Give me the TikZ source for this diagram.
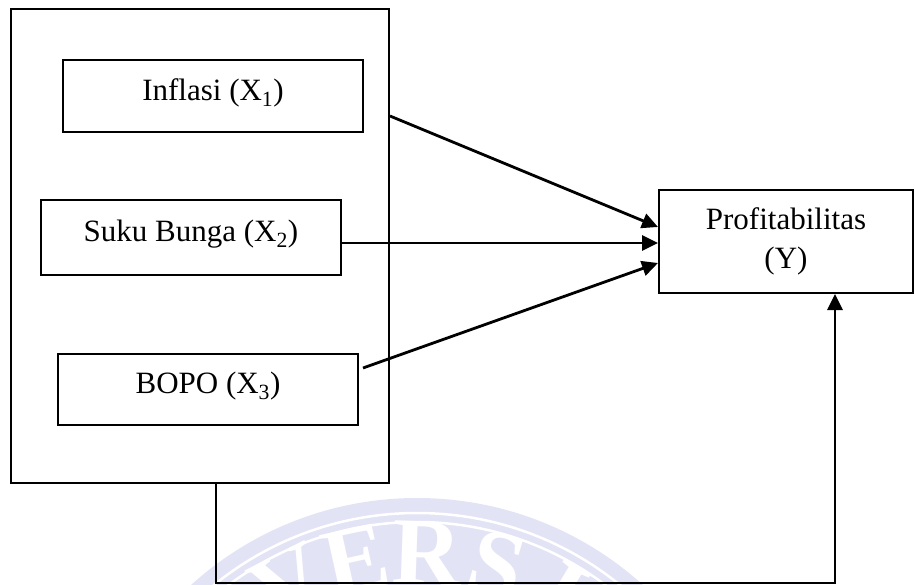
\documentclass[tikz,border=0pt]{standalone}
\usepackage{fontspec}
\setmainfont{Liberation Serif}
\usetikzlibrary{arrows.meta}
\definecolor{wmband}{RGB}{227,227,246}
\tikzset{
  vbox/.style={draw, line width=2pt, minimum width=300pt, inner sep=0pt,
    font=\fontsize{31}{38}\selectfont, text height=22pt, text depth=13.4pt},
  bigbox/.style={draw, line width=2pt, inner sep=0pt},
  ybox/.style={draw, line width=2pt, minimum width=254pt, minimum height=103pt,
    inner sep=0pt, align=center, font=\fontsize{31}{39}\selectfont},
  arr/.style={line width=2.8pt, -{Triangle[length=16pt,width=15pt]}},
  wmletter/.style={text=white, font=\fontsize{96}{96}\selectfont\bfseries, anchor=base, inner sep=0pt}
}
\begin{document}
\begin{tikzpicture}[x=1pt,y=-1pt]
\useasboundingbox (0,0) rectangle (915,585);
% faint watermark seal
\begin{scope}
\clip (0,0) rectangle (915,585);
\fill[wmband] (417,835) circle (337);
\draw[white, line width=2.5pt] (417,835) circle (322);
\draw[white, line width=2.5pt] (417,835) circle (313);
\foreach \ch [count=\i from -5] in {U,N,I,V,E,R,S,I,T,A,S} {
  \pgfmathsetmacro{\ang}{88-\i*14.5}
  \node[wmletter, rotate={\ang-90}] at ({417+250*cos(\ang)},{835-250*sin(\ang)}) {\ch};
}
\end{scope}
% nodes
\node[bigbox, minimum width=378pt, minimum height=474pt] (outer) at (200,246) {};
\node[vbox, minimum height=72pt] (inf) at (213,96) {Inflasi (X\textsubscript{1})};
\node[vbox, minimum height=75pt] (suku) at (191,237.5) {Suku Bunga (X\textsubscript{2})};
\node[vbox, minimum height=71pt] (bopo) at (208,389.5) {BOPO (X\textsubscript{3})};
\node[ybox] (prof) at (786,241.5) {Profitabilitas\\(Y)};
% helper coordinates
\coordinate (y1) at (0,116);
\coordinate (c1) at (216,583);
\coordinate (c2) at (835,583);
% connectors
\draw[arr] (outer.east |- y1) -- ([yshift=14.5pt]prof.west);
\draw[arr] ([yshift=-5.5pt]suku.east) -- ([yshift=-1.5pt]prof.west);
\draw[arr] ([xshift=4pt,yshift=21.5pt]bopo.east) -- ([yshift=-21.5pt]prof.west);
\draw[arr] (c1 |- outer.south) -- (c1) -- (c2) -- (c2 |- prof.south);
\end{tikzpicture}
\end{document}
